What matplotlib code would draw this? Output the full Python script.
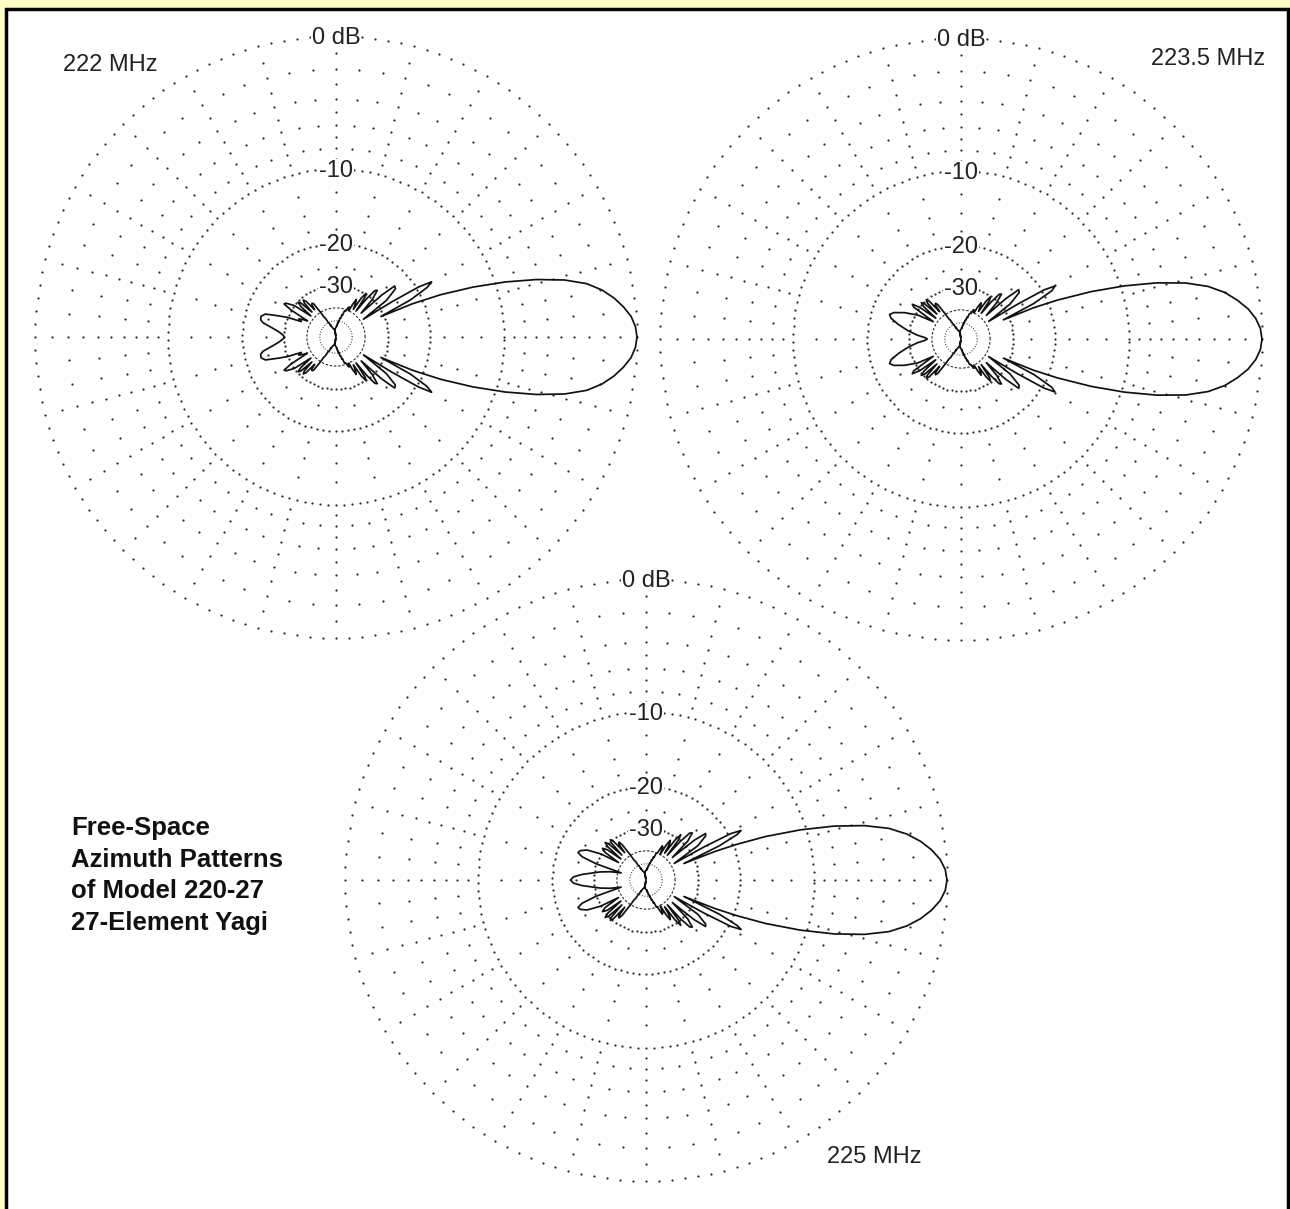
import numpy as np
import matplotlib
matplotlib.use("Agg")
import matplotlib.pyplot as plt
from matplotlib.patches import Rectangle

W, H = 1290, 1209
R = 301  # outer (0 dB) ring radius in pixels

# Half patterns (0..180 deg, boom along 0 deg); the other half is the mirror image
ang_222 = [0, 2, 4, 6, 8, 10, 12, 14, 16, 18, 20, 22, 23.5, 24.5, 26.5, 28.5, 30, 31.2, 32.2, 33,
           36, 39, 41, 42.5, 43.5, 46, 48.5, 50, 51.3, 52.3, 54, 55.5, 57, 58, 60, 61.5, 63, 64,
           66, 67.5, 69, 70, 72, 73.5, 75, 76, 78, 79.5, 81, 82, 84, 85.5, 87, 90,
           93, 94.5, 96, 98, 100, 101.5, 103, 104, 106, 107.5, 109, 110, 112, 113.5, 115, 116,
           118, 119.5, 121, 122, 124, 125.5, 127, 128, 130, 131.5, 133, 134, 136, 137.5, 139, 140,
           143, 146, 147.5, 149, 150.5, 152, 154, 156, 158, 160, 162, 164.5, 167, 169, 172, 175, 178, 180]
db_222 = [0, -0.08, -0.3, -0.7, -1.2, -1.85, -2.75, -4.2, -6.3, -9.0, -12.4, -16.8, -22, -31, -22, -18.3, -17.2, -19.5, -26, -38,
          -27, -23.5, -23.2, -27, -37, -30, -27, -27.5, -31, -38, -31, -29.8, -32, -38, -35, -33.5, -36, -40,
          -38, -38.5, -40.5, -41, -41, -44.5, -44, -47, -47, -50.5, -50, -53, -53, -56.5, -56, -59,
          -60, -60.5, -61, -61.5, -100, -62, -62, -61.5, -61, -60, -59.5, -59, -57, -54, -55, -51,
          -50, -45, -44, -40, -34.5, -34, -34.5, -37, -32, -31, -32, -37, -31, -30.3, -32, -38,
          -30, -27.5, -27.2, -30, -38, -36, -34, -35.5, -30, -27, -24, -23.2, -23.3, -24, -26.5, -28.5, -29.8, -30.2]

ang_2235 = [0, 2, 4, 6, 8, 10, 12, 14, 16, 18, 20, 22, 23.3, 24.3, 26, 28, 29.4, 30.6, 31.6, 32.5,
            35.5, 38.5, 40.5, 42, 43, 45.5, 48, 49.5, 50.8, 51.8, 53.5, 55, 56.5, 57.5, 59.5, 61, 62.5, 63.5,
            65.5, 67, 68.5, 69.5, 71.5, 73, 74.5, 75.5, 77.5, 79, 80.5, 81.5, 83.5, 85, 86.5, 90,
            93.5, 95, 96.5, 98, 100, 101.5, 103, 104, 106, 107.5, 109, 110, 112, 113.5, 115, 116,
            118, 119.5, 121, 122, 124, 125.5, 127, 128, 130, 131.5, 133, 134, 136, 137.5, 139, 140.5,
            142.5, 144.5, 146, 148, 151, 155, 158.5, 161, 163.5, 167, 171, 175, 178, 180]
db_2235 = [0, -0.08, -0.32, -0.72, -1.3, -2.0, -3.0, -4.5, -6.7, -9.6, -13.3, -18.3, -23, -32, -22.5, -18.4, -17.6, -19.5, -26, -38,
           -27.5, -24, -23.6, -27.5, -37, -30.5, -27.5, -28, -31.5, -38, -31.5, -30.3, -32.5, -38, -35, -34, -36.5, -40,
           -38.5, -38.5, -41, -41, -41.5, -44.5, -44, -47, -47, -50.5, -50, -53, -53, -56.5, -56, -59,
           -60, -60.5, -61, -61.5, -100, -62, -62, -61.5, -61, -60, -59.5, -59, -57, -54, -55, -51,
           -50, -45, -44, -40, -34, -33, -33.5, -37, -31, -30, -31, -37, -30.5, -29.5, -31, -38,
           -30, -27.7, -28.5, -38, -31, -27, -24.5, -23.7, -24.3, -26.5, -29.5, -33, -36.5, -37.5]

ang_225 = [0, 2, 4, 6, 8, 10, 12, 14, 16, 18, 20, 21.5, 22.5, 23.5, 25, 26.5, 27.5, 28.7, 29.7, 30.5,
           33.5, 36.5, 38, 39.5, 40.5, 43, 45.5, 47, 48.3, 49.3, 51, 52.5, 54, 55, 57, 58.5, 60, 61,
           63, 64.5, 66, 67, 69, 70.5, 72, 73, 75, 76.5, 78, 79, 81, 82.5, 84, 85, 87, 90,
           93, 95, 96.5, 98, 100, 101.5, 103, 104, 106, 107.5, 109, 110, 112, 113.5, 115, 116,
           118, 119.5, 121, 122, 124, 125.5, 127, 128, 130, 131.5, 133, 134, 136, 137.5, 139, 140,
           142, 144, 146, 147.5, 150, 153, 156, 158, 160, 162, 164, 167, 170, 172.5, 175, 177.5, 180]
db_225 = [0, -0.09, -0.35, -0.8, -1.4, -2.2, -3.3, -5.0, -7.4, -10.6, -14.8, -19.5, -24, -34, -22.5, -18.6, -17.7, -19.5, -26, -38,
          -27, -24, -23.7, -27, -37, -28.5, -26, -26.5, -30, -38, -30, -28.5, -31, -38, -33, -32, -34.5, -40,
          -36, -35.5, -38, -40, -40, -43.5, -43, -46, -46, -49.5, -49, -52, -52, -55.5, -55, -58, -57.5, -59,
          -60, -60.5, -61, -61.5, -100, -62, -62, -61.5, -61, -60, -59.5, -59, -57, -54, -55, -51,
          -50, -45, -44, -40, -33.5, -32, -32.5, -37, -30.5, -29.5, -30.5, -37, -30, -29, -30.5, -38,
          -31, -29.5, -31, -38, -30, -26, -24.5, -24.2, -25.5, -30, -42, -36, -32, -29.5, -26.5, -24.4, -23.7]

freq_labels = ["222 MHz", "223.5 MHz", "225 MHz"]
ring_labels = ["0 dB", "-10", "-20", "-30"]
ring_db = [0, -10, -20, -30]
title_lines = ["Free-Space", "Azimuth Patterns", "of Model 220-27", "27-Element Yagi"]

# plot centres in pixels (x from left, y from top)
centers = [(336, 337), (961, 339), (646, 880)]
label_pos = [(110, 65), (1208, 59), (874, 1157)]


# ARRL log-periodic radial scale: each 2 dB shrinks the radius by 0.89
def arrl_fwd(db):
    return 0.89 ** (-np.asarray(db, dtype=float) / 2.0)


def arrl_inv(r):
    r = np.clip(np.asarray(r, dtype=float), 1e-12, None)
    return -2.0 * np.log(r) / np.log(0.89)


def mirror(ang, db):
    ang = np.asarray(ang, dtype=float)
    db = np.asarray(db, dtype=float)
    full_ang = np.concatenate([ang, 360.0 - ang[::-1][1:]])
    full_db = np.concatenate([db, db[::-1][1:]])
    return np.radians(full_ang), full_db


fig = plt.figure(figsize=(W / 100, H / 100), dpi=100)
fig.patch.set_facecolor("#FFFFC4")
fig.patches.append(Rectangle((5.7 / W, -0.02), (1287.5 - 5.7) / W, 1.02 - 8.8 / H,
                             transform=fig.transFigure, facecolor="white",
                             edgecolor="black", linewidth=2.5, zorder=-5))

grid_col = "#2a2a2a"
dot = dict(linestyle="none", marker="o", ms=1.6, mew=0, color=grid_col, zorder=1)
txt_font = ["Liberation Sans", "DejaVu Sans"]

patterns = [mirror(ang_222, db_222), mirror(ang_2235, db_2235), mirror(ang_225, db_225)]

for (cx, cy), (theta, db) in zip(centers, patterns):
    ax = fig.add_axes([(cx - R) / W, (H - cy - R) / H, 2 * R / W, 2 * R / H],
                      projection="polar")
    ax.set_facecolor("none")
    ax.set_rscale("function", functions=(arrl_fwd, arrl_inv))
    ax.set_rlim(-130, 0)
    ax.grid(False)
    ax.set_xticks([])
    ax.set_yticks([])
    ax.spines["polar"].set_visible(False)

    # dotted rings
    for rdb, step in [(0, 2.5), (-10, 2.7), (-20, 3.8), (-30, 5.0)]:
        t = np.radians(np.arange(0, 360, step))
        ax.plot(t, np.full(t.size, rdb), clip_on=False, **dot)
    tt = np.radians(np.linspace(0, 360, 361))
    ax.plot(tt, np.full(tt.size, -40.0), linestyle=(0, (2.2, 1.6)), lw=0.8,
            color=grid_col, zorder=1)
    ax.plot(tt, np.full(tt.size, -50.0), linestyle=(0, (0.8, 1.6)), lw=0.8,
            color=grid_col, zorder=1)

    # spokes: every 15 deg one dot per dB, the 5 deg ones every 2 dB
    major = np.arange(0, 360, 15)
    minor = np.array([a for a in range(0, 360, 5) if a % 15])
    for angs, levels in [(major, np.arange(-1, -10, -1)),
                         (minor, np.arange(-2, -10, -2)),
                         (major, [-12.5, -15, -17.5, -25])]:
        sa, sd = np.meshgrid(np.radians(angs), levels)
        ax.plot(sa.ravel(), sd.ravel(), **dot)

    for lab, rdb in zip(ring_labels, ring_db):
        ax.annotate(lab, (np.pi / 2, rdb), xytext=(0, -1.5), textcoords="offset points",
                    ha="center", va="center", fontsize=17, family=txt_font,
                    color="#222222", zorder=3,
                    bbox=dict(boxstyle="square,pad=0.05", fc="white", ec="none"))

    ax.plot(theta, db, color="#111111", lw=1.25, clip_on=False, zorder=4)

for lab, (x, y) in zip(freq_labels, label_pos):
    fig.text(x / W, 1 - y / H, lab, ha="center", va="center", fontsize=17,
             family=txt_font, color="#222222")

for i, line in enumerate(title_lines):
    fig.text(71 / W, 1 - (828 + i * 31.7) / H, line, ha="left", va="center",
             fontsize=18.5, fontweight="bold", family=txt_font, color="#111111")

fig.savefig("out.png", dpi=100, facecolor=fig.get_facecolor())
